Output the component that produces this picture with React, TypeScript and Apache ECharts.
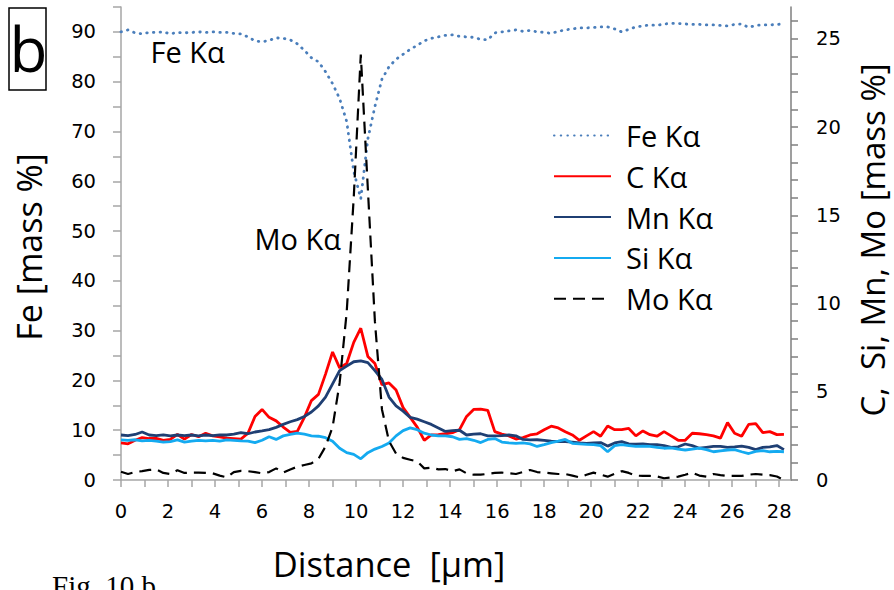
import React, { useEffect, useRef } from "react";
import * as echarts from "echarts";

const STEP_UM = 0.3;
const distance: number[] = Array.from({ length: 95 }, (_, i) => Math.round(i * STEP_UM * 10) / 10);

const feKa = [
  90.0, 90.4, 89.8, 89.6, 89.9, 89.9, 90.0, 89.6, 89.9, 89.8,
  89.9, 90.0, 89.9, 90.0, 89.9, 89.9, 89.7, 89.6, 89.0, 88.2,
  88.0, 88.3, 88.8, 88.7, 88.4, 87.6, 86.3, 84.8, 84.0, 82.0,
  79.6, 76.6, 72.0, 62.0, 56.5, 68.5, 75.0, 80.5, 83.0, 84.5,
  85.5, 86.5, 87.3, 88.2, 88.7, 89.0, 89.3, 89.4, 89.1, 89.0,
  88.9, 88.5, 88.4, 89.8, 90.0, 90.2, 90.4, 90.1, 90.3, 90.0,
  89.9, 89.7, 90.1, 90.4, 90.6, 90.8, 90.8, 90.9, 91.0, 91.0,
  90.6, 90.0, 90.5, 91.0, 91.2, 91.4, 91.3, 91.6, 91.7, 91.7,
  91.6, 91.5, 91.5, 91.4, 91.4, 91.3, 91.2, 91.5, 91.6, 90.9,
  91.3, 91.4, 91.4, 91.5, 91.6,
];

const cKa = [
  2.1, 2.05, 2.25, 2.4, 2.35, 2.36, 2.25, 2.3, 2.58, 2.32,
  2.58, 2.45, 2.65, 2.5, 2.45, 2.37, 2.35, 2.32, 2.65, 3.6,
  4.0, 3.55, 3.35, 3.0, 2.7, 2.75, 3.55, 4.5, 4.85, 6.0,
  7.25, 6.35, 6.6, 7.8, 8.6, 7.0, 6.6, 5.4, 5.5, 5.1,
  4.1, 3.55, 3.0, 2.25, 2.55, 2.57, 2.62, 2.68, 2.85, 3.6,
  4.0, 4.02, 3.95, 2.74, 2.6, 2.5, 2.32, 2.4, 2.55, 2.62,
  2.85, 3.05, 2.95, 2.74, 2.55, 2.25, 2.5, 2.74, 2.48, 3.06,
  2.85, 2.85, 2.92, 2.5, 2.78, 2.57, 2.48, 2.74, 2.5, 2.25,
  2.25, 2.65, 2.62, 2.57, 2.5, 2.37, 3.25, 2.65, 2.48, 3.15,
  3.2, 2.68, 2.74, 2.57, 2.58,
];

const mnKa = [
  2.55, 2.52, 2.58, 2.72, 2.55, 2.52, 2.56, 2.5, 2.55, 2.52,
  2.55, 2.5, 2.55, 2.52, 2.56, 2.55, 2.6, 2.68, 2.62, 2.72,
  2.78, 2.85, 2.98, 3.15, 3.3, 3.42, 3.6, 3.85, 4.2, 4.7,
  5.45, 6.2, 6.45, 6.7, 6.75, 6.65, 6.2, 5.7, 4.7, 4.2,
  3.9, 3.55, 3.45, 3.3, 3.15, 2.95, 2.75, 2.8, 2.82, 2.55,
  2.6, 2.62, 2.5, 2.5, 2.52, 2.55, 2.5, 2.3, 2.27, 2.28,
  2.25, 2.2, 2.18, 2.17, 2.15, 2.1, 2.08, 2.1, 2.12, 1.92,
  2.1, 2.17, 2.05, 2.03, 2.04, 2.0, 2.0, 1.95, 1.85, 1.88,
  2.04, 1.95, 1.8, 1.85, 1.9, 1.9, 1.85, 1.88, 1.92, 1.85,
  1.72, 1.85, 1.88, 1.95, 1.72,
];

const siKa = [
  2.27, 2.25, 2.28, 2.22, 2.25, 2.2, 2.15, 2.18, 2.27, 2.15,
  2.2, 2.25, 2.22, 2.25, 2.2, 2.27, 2.25, 2.22, 2.2, 2.12,
  2.25, 2.45, 2.3, 2.5, 2.58, 2.65, 2.6, 2.5, 2.48, 2.4,
  2.2, 1.8, 1.55, 1.45, 1.2, 1.55, 1.75, 1.9, 2.1, 2.5,
  2.8, 2.95, 2.85, 2.65, 2.55, 2.5, 2.5, 2.45, 2.3, 2.35,
  2.25, 2.12, 2.3, 2.35, 2.15, 2.1, 2.08, 2.1, 2.05, 1.9,
  2.0, 2.12, 2.2, 2.3, 2.08, 2.05, 2.02, 2.0, 1.95, 1.6,
  1.95, 2.0, 1.95, 1.9, 1.92, 1.9, 1.85, 1.8, 1.82, 1.75,
  1.7, 1.75, 1.8, 1.72, 1.6, 1.65, 1.7, 1.72, 1.6, 1.5,
  1.62, 1.66, 1.6, 1.62, 1.6,
];

const moKa = [
  0.47, 0.34, 0.45, 0.5, 0.57, 0.6, 0.4, 0.34, 0.55, 0.4,
  0.42, 0.42, 0.4, 0.38, 0.25, 0.15, 0.45, 0.52, 0.5, 0.45,
  0.38, 0.45, 0.66, 0.42, 0.6, 0.75, 0.85, 0.94, 1.2, 1.9,
  3.0, 5.5, 9.5, 16.0, 24.1, 16.5, 9.0, 4.0, 2.2, 1.5,
  1.25, 1.15, 1.05, 0.66, 0.7, 0.6, 0.62, 0.5, 0.6, 0.38,
  0.3, 0.3, 0.35, 0.4, 0.42, 0.38, 0.34, 0.45, 0.57, 0.45,
  0.42, 0.38, 0.34, 0.34, 0.25, 0.15, 0.3, 0.42, 0.3, 0.19,
  0.35, 0.5, 0.4, 0.25, 0.23, 0.23, 0.2, 0.1, 0.15, 0.19,
  0.3, 0.42, 0.25, 0.19, 0.34, 0.28, 0.23, 0.23, 0.23, 0.3,
  0.34, 0.3, 0.28, 0.2, 0.0,
];

const seriesNames = ["Fe Kα", "C Kα", "Mn Kα", "Si Kα", "Mo Kα"];
const xTickLabels = [0, 2, 4, 6, 8, 10, 12, 14, 16, 18, 20, 22, 24, 26, 28];
const leftTickLabels = [0, 10, 20, 30, 40, 50, 60, 70, 80, 90];
const rightTickLabels = [0, 5, 10, 15, 20, 25];

const pairs = (ys: number[]) => ys.map((y, i) => [distance[i], y]);

const FONT = "Open Sans";
const TICK_FONT = "DejaVu Sans";

export default function App() {
  const ref = useRef<HTMLDivElement>(null);

  useEffect(() => {
    if (!ref.current) return;
    const chart = echarts.init(ref.current, null, { renderer: "svg" });
    const axisGrey = "#a6a6a6";
    chart.setOption({
      animation: false,
      backgroundColor: "#ffffff",
      grid: { left: 121, right: 103, top: 7, bottom: 110, containLabel: false },
      legend: {
        data: seriesNames,
        orient: "vertical",
        left: 553,
        top: 121,
        itemWidth: 57,
        itemHeight: 14,
        itemGap: 11.8,
        padding: 0,
        itemStyle: { opacity: 0, borderWidth: 0 },
        textStyle: { fontFamily: FONT, fontSize: 29, color: "#000", lineHeight: 29, padding: [0, 0, 0, 10] },
      },
      xAxis: {
        type: "value",
        min: 0,
        max: 28.5,
        interval: 1,
        axisLine: { lineStyle: { color: axisGrey, width: 1.5 } },
        axisTick: { show: true, length: 7, lineStyle: { color: axisGrey, width: 1.5 } },
        splitLine: { show: false },
        axisLabel: {
          margin: 21,
          fontFamily: TICK_FONT,
          fontSize: 19.5,
          color: "#000",
          showMaxLabel: false,
          formatter: (v: number) => (xTickLabels.includes(v) ? String(v) : ""),
        },
      },
      yAxis: [
        {
          type: "value",
          position: "left",
          min: 0,
          max: 95,
          interval: 5,
          axisLine: { show: true, lineStyle: { color: axisGrey, width: 1.5 } },
          axisTick: { show: true, length: 8, lineStyle: { color: axisGrey, width: 1.5 } },
          splitLine: { show: false },
          axisLabel: {
            margin: 25,
            fontFamily: TICK_FONT,
            fontSize: 19.5,
            color: "#000",
            formatter: (v: number) => (leftTickLabels.includes(v) ? String(v) : ""),
          },
        },
        {
          type: "value",
          position: "right",
          min: 0,
          max: 26.8,
          interval: 1,
          axisLine: { show: true, lineStyle: { color: "#7f7f7f", width: 1.5 } },
          axisTick: { show: true, length: 7, lineStyle: { color: "#7f7f7f", width: 1.5 } },
          splitLine: { show: false },
          axisLabel: {
            margin: 25,
            fontFamily: TICK_FONT,
            fontSize: 19.5,
            color: "#000",
            showMaxLabel: false,
            formatter: (v: number) => (rightTickLabels.includes(v) ? String(v) : ""),
          },
        },
      ],
      series: [
        {
          name: "Fe Kα",
          type: "line",
          yAxisIndex: 0,
          data: pairs(feKa),
          symbol: "none",
          lineStyle: { color: "#4a7ebb", width: 2.8, type: [0.5, 6.2], cap: "round" },
          itemStyle: { color: "#4a7ebb" },
        },
        {
          name: "C Kα",
          type: "line",
          yAxisIndex: 1,
          data: pairs(cKa),
          symbol: "none",
          lineStyle: { color: "#ff0000", width: 2.8 },
          itemStyle: { color: "#ff0000" },
        },
        {
          name: "Mn Kα",
          type: "line",
          yAxisIndex: 1,
          data: pairs(mnKa),
          symbol: "none",
          lineStyle: { color: "#1f3f73", width: 2.8 },
          itemStyle: { color: "#1f3f73" },
        },
        {
          name: "Si Kα",
          type: "line",
          yAxisIndex: 1,
          data: pairs(siKa),
          symbol: "none",
          lineStyle: { color: "#14aaf0", width: 2.8 },
          itemStyle: { color: "#14aaf0" },
        },
        {
          name: "Mo Kα",
          type: "line",
          yAxisIndex: 1,
          data: pairs(moKa),
          symbol: "none",
          lineStyle: { color: "#000000", width: 2.2, type: [12, 7] },
          itemStyle: { color: "#000000" },
        },
      ],
      graphic: [
        {
          type: "rect",
          shape: { x: 9, y: 8, width: 37, height: 82 },
          style: { fill: "none", stroke: "#000", lineWidth: 1.5 },
        },
        {
          type: "text",
          x: 28.5,
          y: 48,
          style: { text: "b", fontFamily: FONT, fontSize: 62, fill: "#000", align: "center", verticalAlign: "middle" },
        },
        {
          type: "text",
          x: 150.5,
          y: 51,
          style: { text: "Fe Kα", fontFamily: FONT, fontSize: 29, fill: "#000", align: "left", verticalAlign: "middle" },
        },
        {
          type: "text",
          x: 254.5,
          y: 238,
          style: { text: "Mo Kα", fontFamily: FONT, fontSize: 29, fill: "#000", align: "left", verticalAlign: "middle" },
        },
        {
          type: "text",
          x: 28.5,
          y: 247,
          rotation: Math.PI / 2,
          style: { text: "Fe [mass %]", fontFamily: FONT, fontSize: 34, fill: "#000", align: "center", verticalAlign: "middle" },
        },
        {
          type: "text",
          x: 872,
          y: 240,
          rotation: Math.PI / 2,
          style: { text: "C,  Si, Mn, Mo [mass %]", fontFamily: FONT, fontSize: 33, fill: "#000", align: "center", verticalAlign: "middle" },
        },
        {
          type: "text",
          x: 389,
          y: 563.5,
          style: { text: "Distance  [µm]", fontFamily: FONT, fontSize: 34.5, fill: "#000", align: "center", verticalAlign: "middle" },
        },
        {
          type: "text",
          x: 52,
          y: 586,
          style: { text: "Fig. 10 b", fontFamily: "Liberation Serif", fontSize: 29, fill: "#000", align: "left", verticalAlign: "middle" },
        },
      ],
    });
    return () => chart.dispose();
  }, []);

  return (
    <div
      ref={ref}
      style={{ position: "fixed", left: 0, top: 0, width: 894, height: 590, background: "#fff" }}
    />
  );
}
